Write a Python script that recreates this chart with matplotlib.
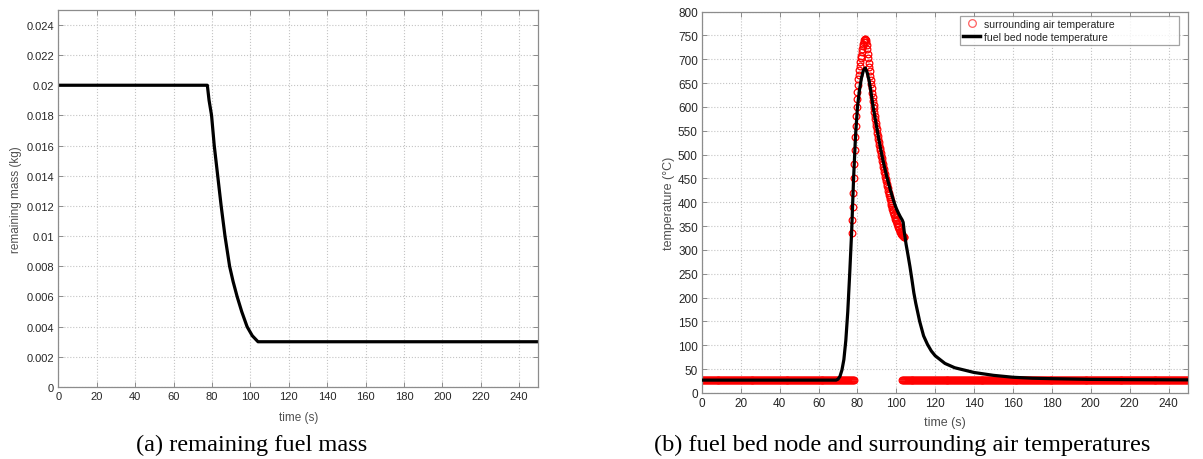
import numpy as np
import matplotlib
matplotlib.use("Agg")
import matplotlib.pyplot as plt
from matplotlib.lines import Line2D

# (a) remaining fuel mass
mass_t = [0, 77.6, 78.5, 79.8, 81.2, 83.0, 84.8, 86.8, 89.2, 91.0, 93.1, 95.5, 98.3, 101.0, 104.0, 250]
mass_kg = [0.02, 0.02, 0.019, 0.018, 0.016, 0.014, 0.012, 0.010, 0.008, 0.007, 0.006, 0.005, 0.004, 0.0034, 0.003, 0.003]

# (b) fuel bed node temperature
node_t = [0, 69, 70, 71, 72, 73, 74, 75, 76, 77, 78, 79, 80, 81, 82, 83, 84, 85, 86, 87, 88,
          89, 90, 91, 92, 93, 94, 95, 96, 97, 98, 99, 100, 101, 102, 103, 103.5, 104, 105,
          106, 107, 108, 109, 110, 112, 114, 116, 118, 120, 125, 130, 140, 150, 160, 170,
          180, 200, 220, 250]
node_T = [27, 27, 29, 35, 48, 70, 110, 170, 250, 338, 450, 540, 600, 635, 660, 676, 682, 672,
          655, 630, 602, 578, 555, 532, 510, 490, 472, 455, 440, 425, 411, 398, 387, 378, 370,
          363, 358, 340, 312, 289, 265, 238, 210, 188, 150, 120, 102, 88, 78, 62, 53, 43, 37,
          33, 31, 30, 28.5, 28, 27.5]

# surrounding air temperature inside the flame window (every 0.25 s)
flame_t = [77.0, 77.25, 77.5, 77.75, 78.0, 78.25, 78.5, 78.75, 79.0, 79.25, 79.5, 79.75,
           80.0, 80.25, 80.5, 80.75, 81.0, 81.25, 81.5, 81.75, 82.0, 82.25, 82.5, 82.75,
           83.0, 83.25, 83.5, 83.75, 84.0, 84.25, 84.5, 84.75, 85.0, 85.25, 85.5, 85.75,
           86.0, 86.25, 86.5, 86.75, 87.0, 87.25, 87.5, 87.75, 88.0, 88.25, 88.5, 88.75,
           89.0, 89.25, 89.5, 89.75, 90.0, 90.25, 90.5, 90.75, 91.0, 91.25, 91.5, 91.75,
           92.0, 92.25, 92.5, 92.75, 93.0, 93.25, 93.5, 93.75, 94.0, 94.25, 94.5, 94.75,
           95.0, 95.25, 95.5, 95.75, 96.0, 96.25, 96.5, 96.75, 97.0, 97.25, 97.5, 97.75,
           98.0, 98.25, 98.5, 98.75, 99.0, 99.25, 99.5, 99.75, 100.0, 100.25, 100.5, 100.75,
           101.0, 101.25, 101.5, 101.75, 102.0, 102.25, 102.5, 102.75, 103.0, 103.25, 103.5,
           103.75, 104.0]
flame_T = [335, 362, 390, 420, 450, 480, 510, 536, 560, 581, 600, 617,
           632, 646, 658, 668, 678, 687, 695, 702, 708, 715, 721, 727,
           732, 737, 740, 742, 742, 740, 736, 730, 722, 712, 702, 692,
           684, 675, 666, 657, 648, 639, 630, 621, 613, 605, 597, 589,
           582, 574, 567, 560, 553, 546, 540, 533, 527, 521, 515, 509,
           503, 497, 492, 486, 480, 475, 469, 464, 459, 454, 449, 444,
           439, 434, 429, 424, 420, 415, 411, 407, 402, 398, 394, 390,
           387, 383, 380, 376, 373, 369, 366, 363, 360, 357, 354, 351,
           348, 345, 343, 340, 338, 336, 334, 332, 331, 330, 329,
           328, 328]
ambient_T = 27
ambient_before = np.arange(0, 78.5, 0.5)
ambient_after = np.arange(102.8, 250.5, 0.5)

air_t = np.concatenate([ambient_before, flame_t, ambient_after])
air_T = np.concatenate([np.full(len(ambient_before), ambient_T), flame_T,
                        np.full(len(ambient_after), ambient_T)])

plt.rcParams['font.family'] = ['Liberation Sans', 'DejaVu Sans']
fig = plt.figure(figsize=(12.03, 4.6), dpi=100)

ax_m = fig.add_axes([0.0485, 0.1565, 0.399, 0.820])
ax_T = fig.add_axes([0.5835, 0.1435, 0.404, 0.829])

frame = '#8c8c8c'
tick_c = '#262626'
label_c = '#505050'

def style(ax, fs):
    for s in ax.spines.values():
        s.set_color(frame)
        s.set_linewidth(0.9)
    ax.tick_params(direction='in', length=3.5, width=0.7, color=frame,
                   labelcolor=tick_c, labelsize=fs, top=True, right=True, pad=3)
    ax.grid(True, linestyle=':', color='#c4c4c4', linewidth=0.8)
    ax.set_axisbelow(True)

# mass
ax_m.plot(mass_t, mass_kg, color='black', linewidth=2.3)
ax_m.set_xlim(0, 250)
ax_m.set_ylim(0, 0.025)
ax_m.set_xticks(np.arange(0, 250, 20))
ax_m.set_yticks(np.arange(0, 0.0245, 0.002))
ax_m.set_yticklabels(['0'] + ['%g' % v for v in np.round(np.arange(0.002, 0.0245, 0.002), 3)])
style(ax_m, 8)
ax_m.set_xlabel('time (s)', fontsize=8.5, color=label_c, labelpad=7)
ax_m.set_ylabel('remaining mass (kg)', fontsize=8.5, color=label_c, labelpad=3)

# temperatures
ax_T.plot(air_t, air_T, linestyle='none', marker='o', markersize=4.8,
          markerfacecolor='none', markeredgecolor='#ff0000', markeredgewidth=0.9,
          zorder=2)
ax_T.plot(node_t, node_T, color='black', linewidth=2.3, zorder=3)
ax_T.set_xlim(0, 250)
ax_T.set_ylim(0, 800)
ax_T.set_xticks(np.arange(0, 250, 20))
ax_T.set_yticks(np.arange(0, 801, 50))
style(ax_T, 8.5)
ax_T.set_xlabel('time (s)', fontsize=9, color=label_c, labelpad=5)
ax_T.set_ylabel('temperature (°C)', fontsize=9, color=label_c, labelpad=2)

handles = [Line2D([], [], linestyle='none', marker='o', markersize=5.5,
                  markerfacecolor='none', markeredgecolor='#ff6060', markeredgewidth=0.9),
           Line2D([], [], color='black', linewidth=2.5)]
leg = ax_T.legend(handles, ['surrounding air temperature', 'fuel bed node temperature'],
                  loc='upper left', bbox_to_anchor=(0.531, 0.5, 0.45, 0.489), mode='expand',
                  fontsize=7.6, frameon=True, fancybox=False, borderpad=0.3,
                  labelspacing=0.25, handlelength=1.6, handletextpad=0.4, borderaxespad=0)
leg.get_frame().set_edgecolor(frame)
leg.get_frame().set_linewidth(0.9)
for t in leg.get_texts():
    t.set_color('#262626')

fig.text(252 / 1203, 1 - 445 / 460, '(a) remaining fuel mass', ha='center', va='center',
         fontsize=17.6, family='Liberation Serif')
fig.text(902 / 1203, 1 - 445 / 460, '(b) fuel bed node and surrounding air temperatures',
         ha='center', va='center', fontsize=17.6, family='Liberation Serif')

fig.savefig('out.png', dpi=100)
